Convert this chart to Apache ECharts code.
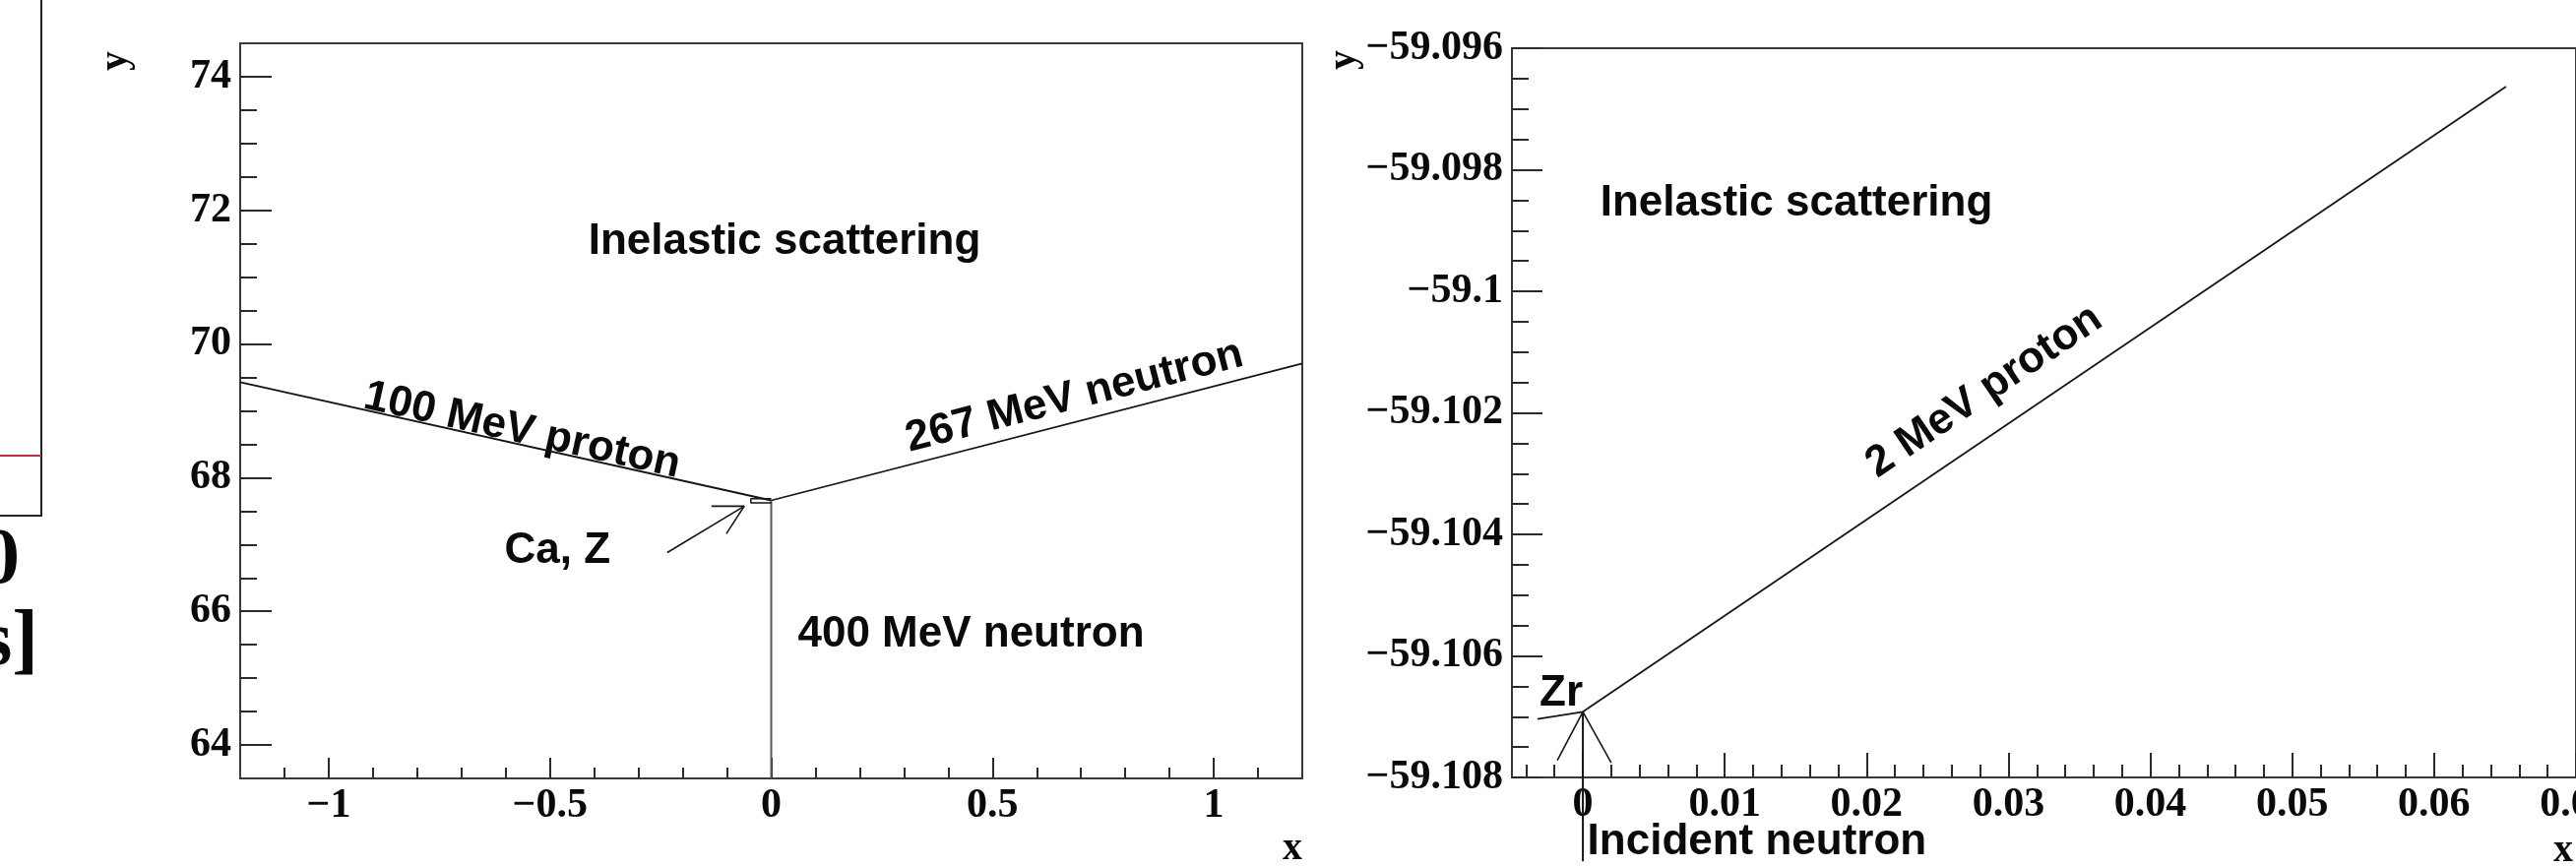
<!DOCTYPE html>
<html>
<head>
<meta charset="utf-8">
<script src="https://cdn.jsdelivr.net/npm/echarts@6/dist/echarts.min.js"></script>
<style>
html,body{margin:0;padding:0;background:#ffffff;}
#c{width:2617px;height:880px;}
</style>
</head>
<body>
<div id="c"></div>
<script>
// ---------------- DATA ----------------
// Left panel: 400 MeV neutron on Ca (x, y)
const leftXRange = [-1.2, 1.2];
const leftYRange = [63.5, 74.5];
const leftXMajor = [-1, -0.5, 0, 0.5, 1];
const leftXMinor = [-1.1, -0.9, -0.8, -0.7, -0.6, -0.4, -0.3, -0.2, -0.1, 0.1, 0.2, 0.3, 0.4, 0.6, 0.7, 0.8, 0.9, 1.1];
const leftYMajor = [64, 66, 68, 70, 72, 74];
const leftYMinor = [64.5, 65, 65.5, 66.5, 67, 67.5, 68.5, 69, 69.5, 70.5, 71, 71.5, 72.5, 73, 73.5];

const leftProton100 = [[-1.2, 69.43], [0, 67.66]];
const leftNeutron267 = [[0, 67.66], [1.2, 69.71]];
const leftNeutron400 = [[0, 67.66], [0, 63.5]];
const leftNucleusBox = [[0, 67.685], [-0.046, 67.685], [-0.046, 67.625], [0, 67.625]];
const leftArrowShaft = [[-0.235, 66.88], [-0.061, 67.574]];
const leftArrowHead = [[-0.135, 67.574], [-0.061, 67.574], [-0.1015, 67.162]];

const leftLabels = ['Inelastic scattering', '100 MeV proton', '267 MeV neutron', '400 MeV neutron', 'Ca, Z'];
const leftLabelX = [0.030, -0.563, 0.685, 0.4515, -0.483];
const leftLabelY = [71.53, 68.70, 69.21, 65.65, 66.90];
const leftLabelAngle = [0, -12.5, 14.45, 0, 0];

// Right panel: neutron on Zr (x, y)
const rightXRange = [-0.005, 0.07];
const rightYRange = [-59.108, -59.096];
const rightXMajor = [0, 0.01, 0.02, 0.03, 0.04, 0.05, 0.06, 0.07];
const rightXMinor = [-0.004, -0.002, 0.002, 0.004, 0.006, 0.008, 0.012, 0.014, 0.016, 0.018,
  0.022, 0.024, 0.026, 0.028, 0.032, 0.034, 0.036, 0.038, 0.042, 0.044, 0.046, 0.048,
  0.052, 0.054, 0.056, 0.058, 0.062, 0.064, 0.066, 0.068];
const rightYMajor = [-59.108, -59.106, -59.104, -59.102, -59.1, -59.098, -59.096];
const rightYMinor = [-59.1075, -59.107, -59.1065, -59.1055, -59.105, -59.1045, -59.1035, -59.103, -59.1025,
  -59.1015, -59.101, -59.1005, -59.0995, -59.099, -59.0985, -59.0975, -59.097, -59.0965];

const rightProton2 = [[0, -59.10692], [0.06507, -59.09663]];
const rightRecoilZr = [[-0.0032, -59.10704], [0, -59.10692]];
const rightIncident = [[0, -59.10938], [0, -59.10692]];
const rightIncidentHead = [[-0.0018, -59.10772], [0, -59.10692], [0.0020, -59.10776]];

const rightLabels = ['Inelastic scattering', '2 MeV proton', 'Zr', 'Incident neutron'];
const rightLabelX = [0.01505, 0.02829, -0.00153, 0.01227];
const rightLabelY = [-59.09856, -59.10165, -59.10662, -59.10907];
const rightLabelAngle = [0, 34.1, 0, 0];

// ---------------- LAYOUT / STYLE ----------------
const GL = {left: 244, top: 44, width: 1079, height: 747};
const GR = {left: 1536, top: 49, width: 1081, height: 741};
const FRAME = '#3a3a3a';
const INK = '#0a0a0a';
const tickFont = {fontFamily: 'Liberation Serif', fontWeight: 'bold', fontSize: 42, color: INK};
const annFont = {fontFamily: 'Liberation Sans', fontWeight: 'bold', fontSize: 44, color: INK};

function fmt(v) {
  return String(+(+v).toFixed(4)).replace('-', '\u2212');
}

function axis(kind, grid, range, ticks, len, withLabels, margin) {
  return {
    type: 'value', gridIndex: grid, min: range[0], max: range[1],
    position: kind === 'x' ? 'bottom' : 'left',
    axisLine: {show: withLabels, onZero: false, lineStyle: {color: FRAME, width: 2}},
    axisTick: {show: true, inside: true, length: len, customValues: ticks,
      lineStyle: {color: '#2a2a2a', width: 2}},
    axisLabel: withLabels ? Object.assign({show: true, customValues: ticks, formatter: fmt,
      margin: margin, showMinLabel: true, showMaxLabel: true, hideOverlap: false}, tickFont) : {show: false},
    splitLine: {show: false},
    minorTick: {show: false}
  };
}

function seg(data, xi, yi, color, width, clip) {
  return {
    type: 'line', data: data, xAxisIndex: xi, yAxisIndex: yi,
    symbol: 'none', clip: clip !== false, silent: true,
    lineStyle: {color: color, width: width}
  };
}

function labelSeries(texts, xs, ys, angles, xi, yi) {
  return {
    type: 'scatter', xAxisIndex: xi, yAxisIndex: yi, symbolSize: 0, clip: false, silent: true,
    itemStyle: {opacity: 1},
    emphasis: {disabled: true},
    data: texts.map((t, i) => ({
      value: [xs[i], ys[i]], name: t,
      label: {rotate: angles[i]}
    })),
    label: Object.assign({show: true, position: 'inside', formatter: p => p.name,
      align: 'center', verticalAlign: 'middle', opacity: 1, textBorderWidth: 0}, annFont)
  };
}

const chart = echarts.init(document.getElementById('c'), null, {renderer: 'canvas', width: 2617, height: 880});

const gridBase = {show: true, borderColor: FRAME, borderWidth: 2, backgroundColor: 'transparent',
  containLabel: false, outerBoundsMode: 'none'};

const option = {
  backgroundColor: '#ffffff',
  animation: false,
  grid: [
    Object.assign({}, gridBase, GL),
    Object.assign({}, gridBase, GR)
  ],
  xAxis: [
    axis('x', 0, leftXRange, leftXMajor, 21, true, 7),
    axis('x', 0, leftXRange, leftXMinor, 11, false),
    axis('x', 1, rightXRange, rightXMajor, 25, true, 7),
    axis('x', 1, rightXRange, rightXMinor, 13, false)
  ],
  yAxis: [
    axis('y', 0, leftYRange, leftYMajor, 32, true, 9),
    axis('y', 0, leftYRange, leftYMinor, 17, false),
    axis('y', 1, rightYRange, rightYMajor, 31, true, 9),
    axis('y', 1, rightYRange, rightYMinor, 17, false)
  ],
  series: [
    seg(leftProton100, 0, 0, '#151515', 1.8),
    seg(leftNeutron267, 0, 0, '#151515', 1.8),
    seg(leftNeutron400, 0, 0, '#555555', 2),
    seg(leftNucleusBox, 0, 0, '#151515', 1.5),
    seg(leftArrowShaft, 0, 0, '#151515', 1.6),
    seg(leftArrowHead, 0, 0, '#151515', 1.6),
    labelSeries(leftLabels, leftLabelX, leftLabelY, leftLabelAngle, 0, 0),

    seg(rightProton2, 2, 2, '#151515', 1.8),
    seg(rightRecoilZr, 2, 2, '#151515', 1.8),
    seg(rightIncident, 2, 2, '#151515', 2, false),
    seg(rightIncidentHead, 2, 2, '#151515', 1.6),
    labelSeries(rightLabels, rightLabelX, rightLabelY, rightLabelAngle, 2, 2)
  ],
  graphic: [
    // fragment of the neighbouring figure at the far left
    {type: 'polyline', silent: true, shape: {points: [[42, 0], [42, 524], [0, 524]]},
      style: {stroke: '#222', lineWidth: 2, fill: null}},
    {type: 'line', silent: true, shape: {x1: 0, y1: 463, x2: 42, y2: 463},
      style: {stroke: '#c23040', lineWidth: 2}},
    {type: 'text', silent: true, x: 20, y: 571,
      style: {text: '0', align: 'right', verticalAlign: 'middle', fill: INK,
        fontFamily: 'Liberation Serif', fontWeight: 'bold', fontSize: 80}},
    {type: 'text', silent: true, x: 39, y: 654,
      style: {text: 's]', align: 'right', verticalAlign: 'middle', fill: INK,
        fontFamily: 'Liberation Serif', fontWeight: 'bold', fontSize: 80}},
    // axis titles
    {type: 'text', silent: true, x: GL.left - 126, y: GL.top + 18, rotation: Math.PI / 2,
      style: {text: 'y', align: 'center', verticalAlign: 'middle', fill: INK,
        fontFamily: 'Liberation Serif', fontWeight: 'bold', fontSize: 40}},
    {type: 'text', silent: true, x: GL.left + GL.width, y: 863,
      style: {text: 'x', align: 'right', verticalAlign: 'middle', fill: INK,
        fontFamily: 'Liberation Serif', fontWeight: 'bold', fontSize: 40}},
    {type: 'text', silent: true, x: GR.left - 170, y: GR.top + 12, rotation: Math.PI / 2,
      style: {text: 'y', align: 'center', verticalAlign: 'middle', fill: INK,
        fontFamily: 'Liberation Serif', fontWeight: 'bold', fontSize: 40}},
    {type: 'text', silent: true, x: GR.left + GR.width - 3, y: 865,
      style: {text: 'x', align: 'right', verticalAlign: 'middle', fill: INK,
        fontFamily: 'Liberation Serif', fontWeight: 'bold', fontSize: 40}}
  ]
};

chart.setOption(option);
</script>
</body>
</html>
